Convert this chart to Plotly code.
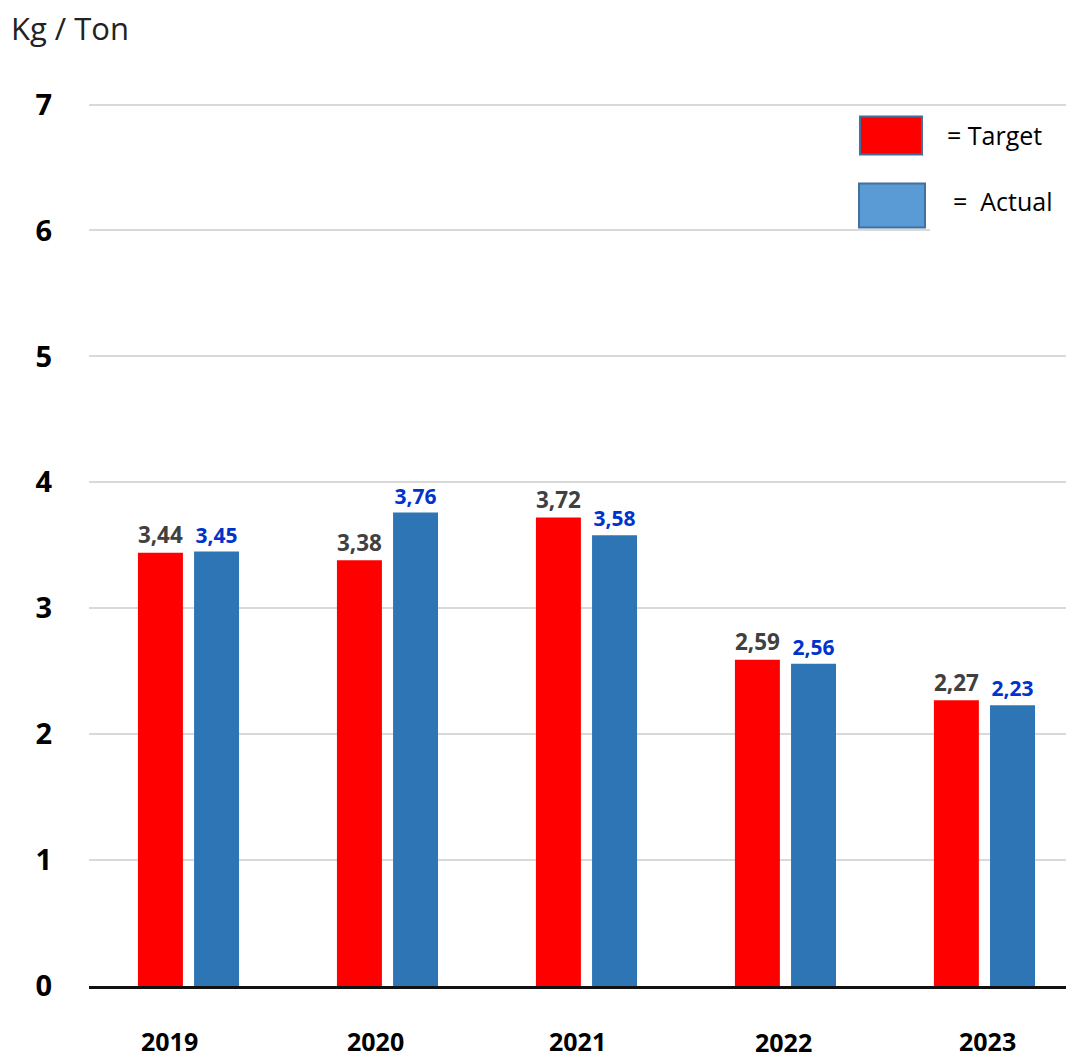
import plotly.graph_objects as go

years = ["2019", "2020", "2021", "2022", "2023"]
target = [3.44, 3.38, 3.72, 2.59, 2.27]
actual = [3.45, 3.76, 3.58, 2.56, 2.23]
y_ticks = [0, 1, 2, 3, 4, 5, 6, 7]

FONT = "Open Sans"

fig = go.Figure()
fig.add_trace(go.Bar(
    x=years, y=target, name="Target",
    marker=dict(color="#ff0000", line=dict(width=0)),
    width=0.226, offset=-0.254,
    texttemplate="%{y:.2f}", textposition="outside",
    textfont=dict(family=FONT, size=24, color="#404040", weight="bold"),
    cliponaxis=False,
))
fig.add_trace(go.Bar(
    x=years, y=actual, name="Actual",
    marker=dict(color="#2e75b6", line=dict(width=0)),
    width=0.226, offset=0.028,
    texttemplate="%{y:.2f}", textposition="outside",
    textfont=dict(family=FONT, size=21, color="#0033cc", weight="bold"),
    cliponaxis=False,
))

# page body has an 8px margin; figure is sized/positioned to compensate
fig.update_layout(
    width=1066, height=1051,
    margin=dict(l=81, r=0, t=93.5, b=73),
    barmode="overlay",
    separators=",.",
    showlegend=False,
    plot_bgcolor="white", paper_bgcolor="white",
    font=dict(family=FONT, color="#000000"),
)
fig.update_xaxes(
    type="category", range=[-0.5, 4.45], automargin=False,
    showgrid=False, showline=True, linecolor="#111111", linewidth=3,
    ticks="", showticklabels=False,
)
fig.update_yaxes(
    range=[0, 7.02], automargin=False,
    tickvals=y_ticks, ticktext=[str(v) for v in y_ticks],
    showgrid=True, gridcolor="#d9d9d9", gridwidth=2,
    zeroline=False, showline=False, ticks="",
    tickfont=dict(family=FONT, size=29, color="#000000", weight="bold"),
    ticklabelstandoff=36,
)

PX0, PW, PY0, PH = 89, 985, 986, 884.5
def px(x):
    return (x - PX0) / PW
def py(y):
    return (PY0 - y) / PH

# category labels (slightly offset from bar-group centres, as in the original)
label_shift = [-19, -12, -9, -2, 3]
label_y = [1041, 1041, 1041, 1042, 1041]
for i, (yr, dx, ly) in enumerate(zip(years, label_shift, label_y)):
    fig.add_annotation(xref="x", yref="paper", x=i, y=py(ly), xshift=dx,
                       text=yr, showarrow=False, xanchor="center", yanchor="middle",
                       font=dict(family=FONT, size=25, color="#000000", weight="bold"))

# white box behind legend (hides the gridline at 6 on the right)
fig.add_shape(type="rect", xref="paper", yref="paper",
              x0=px(930), x1=1.0, y0=py(240), y1=py(110),
              fillcolor="white", line=dict(width=0), layer="above")
# legend swatches
fig.add_shape(type="rect", xref="paper", yref="paper",
              x0=px(860), x1=px(922), y0=py(154), y1=py(116),
              fillcolor="#ff0000", line=dict(color="#41719c", width=2), layer="above")
fig.add_shape(type="rect", xref="paper", yref="paper",
              x0=px(859), x1=px(925), y0=py(227), y1=py(183),
              fillcolor="#5b9bd5", line=dict(color="#41719c", width=2), layer="above")
fig.add_annotation(xref="paper", yref="paper", x=px(945), y=py(135),
                   text="= Target", showarrow=False, xanchor="left", yanchor="middle",
                   font=dict(family=FONT, size=25, color="#000000"))
fig.add_annotation(xref="paper", yref="paper", x=px(951), y=py(201),
                   text="=  Actual", showarrow=False, xanchor="left", yanchor="middle",
                   font=dict(family=FONT, size=25, color="#000000"))
# unit label
fig.add_annotation(xref="paper", yref="paper", x=px(9), y=py(27),
                   text="Kg / Ton", showarrow=False, xanchor="left", yanchor="middle",
                   font=dict(family=FONT, size=31, color="#222222"))

fig.write_html("out.html")
